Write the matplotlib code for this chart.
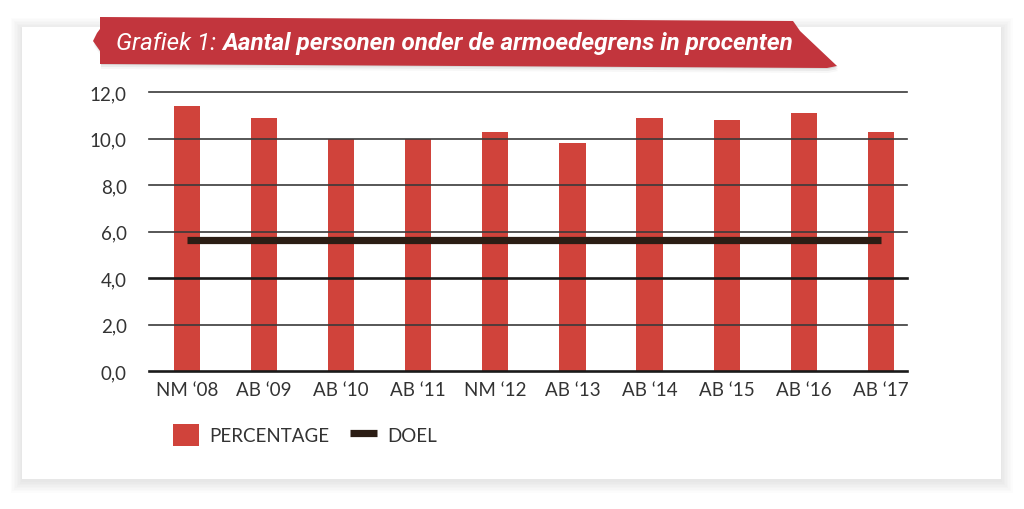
import matplotlib
matplotlib.use("Agg")
import matplotlib.pyplot as plt
from matplotlib.patches import Rectangle, Polygon

categories = ["NM \u201808", "AB \u201809", "AB \u201810", "AB \u201811", "NM \u201812",
              "AB \u201813", "AB \u201814", "AB \u201815", "AB \u201816", "AB \u201817"]
percentage = [11.4, 10.9, 10.0, 10.0, 10.3, 9.8, 10.9, 10.8, 11.1, 10.3]
doel = [5.65, 5.65, 5.65, 5.65, 5.65, 5.65, 5.65, 5.65, 5.65, 5.65]
yticks = [0, 2, 4, 6, 8, 10, 12]
title_a = "Grafiek 1:"
title_b = "Aantal personen onder de armoedegrens in procenten"

W, H = 1024, 510
BAR = "#d0433b"
DOEL_C = "#2b1d14"
BANNER = "#c2353d"
TXT = "#333333"

plt.rcParams['font.family'] = ['Lato', 'DejaVu Sans']

fig = plt.figure(figsize=(W / 100, H / 100), dpi=100)
fig.patch.set_facecolor("white")


def fx(x):
    return x / W


def fy(y):
    return 1 - y / H


# soft card shadow
for i in range(8):
    m = 1 + i * 1.5
    fig.add_artist(Rectangle((fx(22 - m), fy(480 + m + 2)), (979 + 2 * m) / W, (452 + 2 * m) / H,
                             transform=fig.transFigure, facecolor="#000000", alpha=0.012,
                             edgecolor="none", zorder=0))
fig.add_artist(Rectangle((fx(22), fy(480)), 979 / W, 452 / H, transform=fig.transFigure,
                         facecolor="white", edgecolor="none", zorder=0.5))

ax = fig.add_axes([fx(149), fy(372), (907 - 149) / W, (372 - 93) / H])
ax.set_zorder(2)
ax.patch.set_alpha(0)

x = list(range(len(categories)))
bars = ax.bar(x, percentage, width=0.34, color=BAR, zorder=1, label="PERCENTAGE")
line, = ax.plot(x, doel, color=DOEL_C, linewidth=5.2, solid_capstyle="butt", zorder=4, label="DOEL")

for t in yticks:
    lw = 1.9 if t in (0, 4) else 1.2
    col = "#1a1a1a" if t in (0, 4) else "#3a3a3a"
    ax.axhline(t, color=col, linewidth=lw, zorder=3, clip_on=False)

ax.set_xlim(-0.493, 9.339)
ax.set_ylim(0, 12)
ax.set_yticks(yticks)
ax.set_yticklabels([f"{v:.1f}".replace(".", ",") for v in yticks])
ax.set_xticks(x)
ax.set_xticklabels(categories)
ax.tick_params(axis="both", length=0, labelsize=13.5, colors=TXT)
ax.tick_params(axis="y", pad=16)
ax.tick_params(axis="x", pad=7)
for s in ax.spines.values():
    s.set_visible(False)

leg = fig.legend(handles=[bars, line], labels=["PERCENTAGE", "DOEL"], ncol=2, frameon=False,
                 loc="center left", bbox_to_anchor=(fx(173), fy(436)), fontsize=13.5,
                 handlelength=1.4, handleheight=1.4, handletextpad=0.55, columnspacing=1.1,
                 borderaxespad=0, borderpad=0)
for t in leg.get_texts():
    t.set_color(TXT)

# banner with shadow
pts = [(100, 18), (793, 22), (800, 32), (837, 67), (827, 69), (100, 65), (100, 52),
       (93, 42), (97, 34), (100, 30)]
for a, d in [(0.07, 1), (0.05, 3), (0.03, 5)]:
    fig.add_artist(Polygon([(fx(px + 1), fy(py + d)) for px, py in pts], closed=True,
                           transform=fig.transFigure, facecolor="black", alpha=a,
                           edgecolor="none", zorder=3))
fig.add_artist(Polygon([(fx(px), fy(py)) for px, py in pts], closed=True,
                       transform=fig.transFigure, facecolor=BANNER, edgecolor="none", zorder=4))

tfam = ['Roboto', 'DejaVu Sans']
ta = fig.text(fx(116), fy(50), title_a + " ", color="white", fontsize=17.5, style="italic",
              family=tfam, va="baseline", ha="left", zorder=5)
fig.add_artist(plt.Annotation(title_b, xy=(1, 0), xycoords=ta, va="bottom", ha="left",
                              color="white", fontsize=17.5, style="italic", weight="bold",
                              family=tfam, zorder=5))

fig.savefig("out.png", dpi=100, facecolor="white")
